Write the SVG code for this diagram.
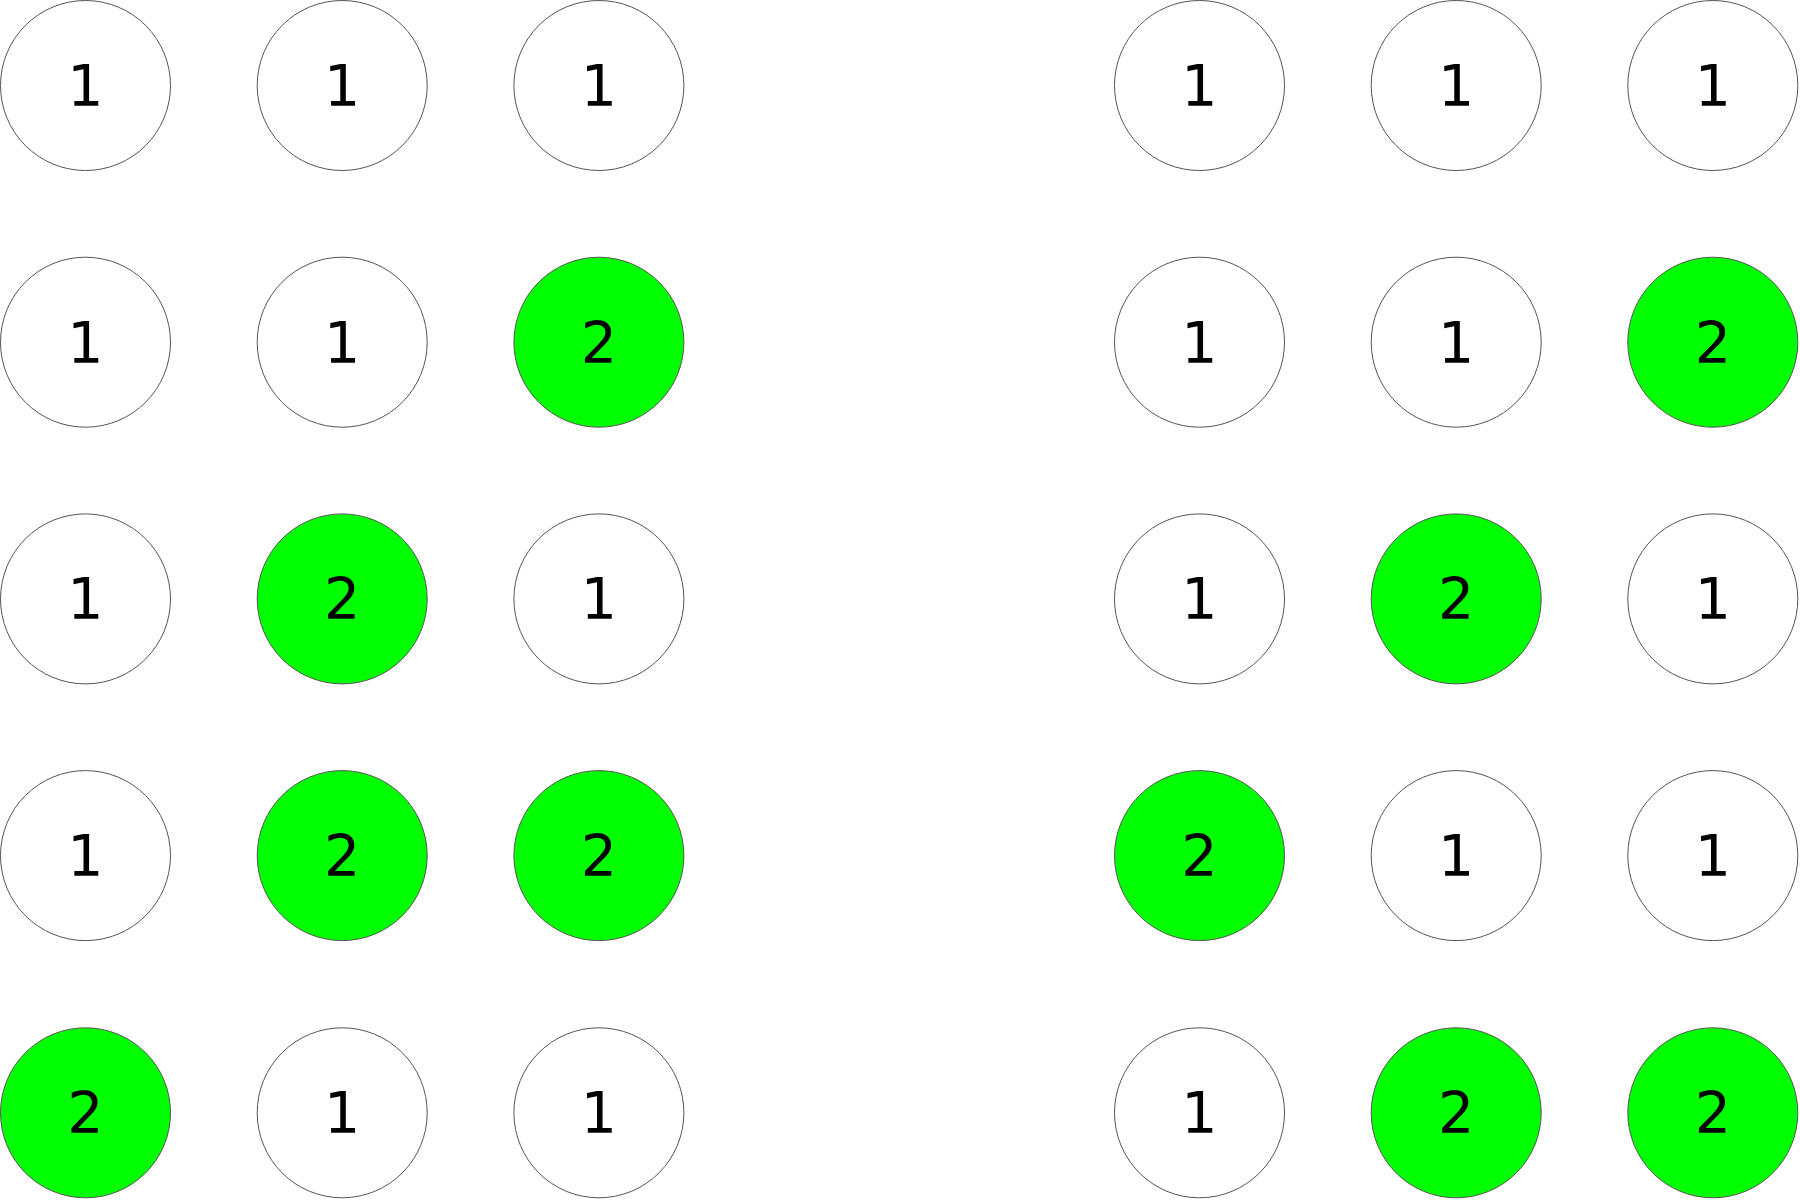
<svg xmlns="http://www.w3.org/2000/svg" width="1800" height="1200" viewBox="0 0 1800 1200">
<style>
circle{stroke:#555;stroke-width:1}
.w{fill:#fff}
.g{fill:#00ff00}
text{font-family:"DejaVu Sans",sans-serif;font-size:57px;text-anchor:middle;fill:#000}
</style>
<rect width="1800" height="1200" fill="#fff"/>
<g id="L00"><circle class="w" cx="85.5" cy="85.5" r="85"/><text x="85.5" y="106">1</text></g>
<g id="L01"><circle class="w" cx="342.2" cy="85.5" r="85"/><text x="342.2" y="106">1</text></g>
<g id="L02"><circle class="w" cx="598.9" cy="85.5" r="85"/><text x="598.9" y="106">1</text></g>
<g id="L10"><circle class="w" cx="85.5" cy="342.2" r="85"/><text x="85.5" y="362.7">1</text></g>
<g id="L11"><circle class="w" cx="342.2" cy="342.2" r="85"/><text x="342.2" y="362.7">1</text></g>
<g id="L12"><circle class="g" cx="598.9" cy="342.2" r="85"/><text x="598.9" y="362.7">2</text></g>
<g id="L20"><circle class="w" cx="85.5" cy="598.9" r="85"/><text x="85.5" y="619.4">1</text></g>
<g id="L21"><circle class="g" cx="342.2" cy="598.9" r="85"/><text x="342.2" y="619.4">2</text></g>
<g id="L22"><circle class="w" cx="598.9" cy="598.9" r="85"/><text x="598.9" y="619.4">1</text></g>
<g id="L30"><circle class="w" cx="85.5" cy="855.6" r="85"/><text x="85.5" y="876.1">1</text></g>
<g id="L31"><circle class="g" cx="342.2" cy="855.6" r="85"/><text x="342.2" y="876.1">2</text></g>
<g id="L32"><circle class="g" cx="598.9" cy="855.6" r="85"/><text x="598.9" y="876.1">2</text></g>
<g id="L40"><circle class="g" cx="85.5" cy="1112.8" r="85"/><text x="85.5" y="1133.3">2</text></g>
<g id="L41"><circle class="w" cx="342.2" cy="1112.8" r="85"/><text x="342.2" y="1133.3">1</text></g>
<g id="L42"><circle class="w" cx="598.9" cy="1112.8" r="85"/><text x="598.9" y="1133.3">1</text></g>
<g id="R00"><circle class="w" cx="1199.5" cy="85.5" r="85"/><text x="1199.5" y="106">1</text></g>
<g id="R01"><circle class="w" cx="1456.2" cy="85.5" r="85"/><text x="1456.2" y="106">1</text></g>
<g id="R02"><circle class="w" cx="1712.8" cy="85.5" r="85"/><text x="1712.8" y="106">1</text></g>
<g id="R10"><circle class="w" cx="1199.5" cy="342.2" r="85"/><text x="1199.5" y="362.7">1</text></g>
<g id="R11"><circle class="w" cx="1456.2" cy="342.2" r="85"/><text x="1456.2" y="362.7">1</text></g>
<g id="R12"><circle class="g" cx="1712.8" cy="342.2" r="85"/><text x="1712.8" y="362.7">2</text></g>
<g id="R20"><circle class="w" cx="1199.5" cy="598.9" r="85"/><text x="1199.5" y="619.4">1</text></g>
<g id="R21"><circle class="g" cx="1456.2" cy="598.9" r="85"/><text x="1456.2" y="619.4">2</text></g>
<g id="R22"><circle class="w" cx="1712.8" cy="598.9" r="85"/><text x="1712.8" y="619.4">1</text></g>
<g id="R30"><circle class="g" cx="1199.5" cy="855.6" r="85"/><text x="1199.5" y="876.1">2</text></g>
<g id="R31"><circle class="w" cx="1456.2" cy="855.6" r="85"/><text x="1456.2" y="876.1">1</text></g>
<g id="R32"><circle class="w" cx="1712.8" cy="855.6" r="85"/><text x="1712.8" y="876.1">1</text></g>
<g id="R40"><circle class="w" cx="1199.5" cy="1112.8" r="85"/><text x="1199.5" y="1133.3">1</text></g>
<g id="R41"><circle class="g" cx="1456.2" cy="1112.8" r="85"/><text x="1456.2" y="1133.3">2</text></g>
<g id="R42"><circle class="g" cx="1712.8" cy="1112.8" r="85"/><text x="1712.8" y="1133.3">2</text></g>
<g id="connectors"/>
</svg>
